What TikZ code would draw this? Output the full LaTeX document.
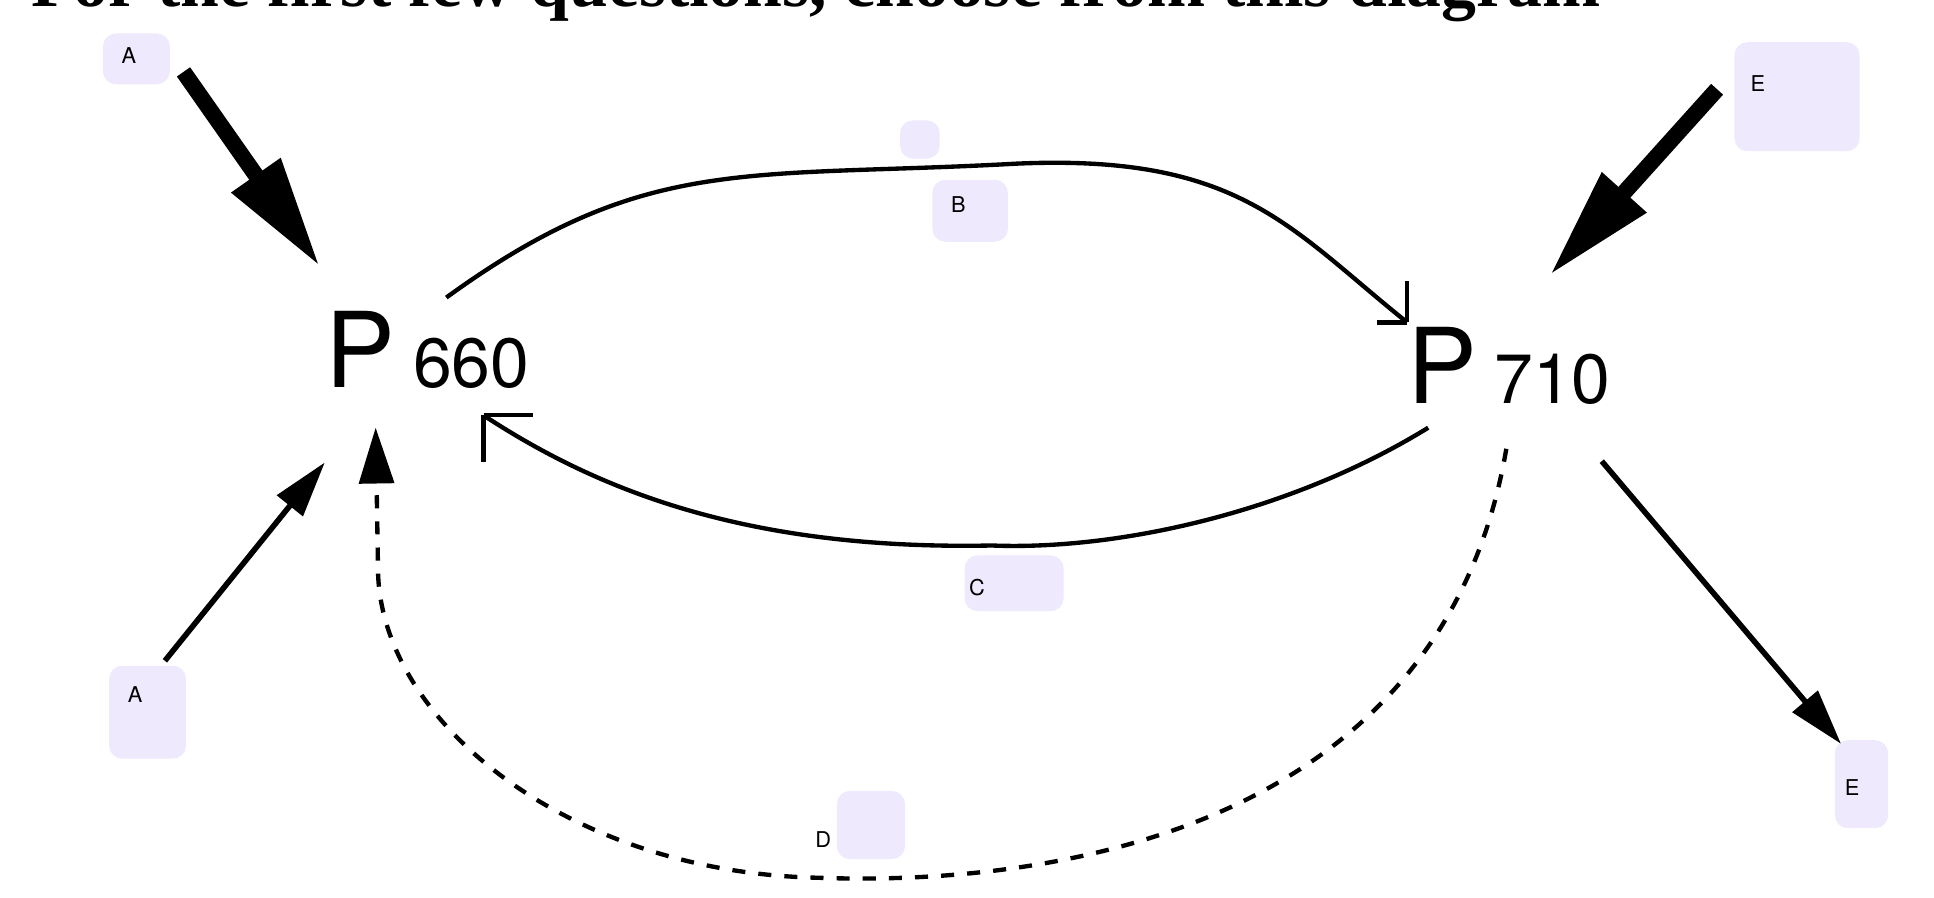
\documentclass[tikz,border=0pt]{standalone}
\usepackage{fontspec}
\setmainfont{TeX Gyre Heros}
\newfontfamily\titlefont{Liberation Serif}
\usetikzlibrary{arrows.meta}
\definecolor{boxfill}{RGB}{238,233,252}

\tikzset{
    tag/.style={fill=boxfill,rounded corners=3pt},
    lbl/.style={font=\fontsize{5}{6}\selectfont,inner sep=0pt},
    heavy/.style={line width=0.13cm,-{Triangle[length=0.9cm,width=0.45cm]}},
    light/.style={line width=0.045cm,-{Triangle[length=0.45cm,width=0.26cm]}},
    swing/.style={line width=0.035cm}
}

\begin{document}
\begin{tikzpicture}
    \useasboundingbox (0,0) rectangle (15.6,7.24);
    % heading, cut by the top edge
    \node[font=\titlefont\fontsize{16}{20}\selectfont\bfseries,anchor=base] (head) at (6.58,7.19) {For the first few questions, choose from this diagram};

    % the two pigments
    \node (p660) at (3.45,4.42) {\fontsize{24}{28}\selectfont P\,\fontsize{16}{20}\selectfont 660};
    \node (p710) at (12.17,4.29) {\fontsize{24}{28}\selectfont P\,\fontsize{16}{20}\selectfont 710};

    % label boxes
    \fill[tag] (0.83,6.97) rectangle (1.37,6.56);
    \node[lbl] (a1) at (1.04,6.79) {A};
    \fill[tag] (7.26,6.27) rectangle (7.58,5.96);
    \fill[tag] (7.52,5.79) rectangle (8.13,5.29);
    \node[lbl] (b) at (7.73,5.59) {B};
    \fill[tag] (13.99,6.90) rectangle (15.00,6.02);
    \node[lbl] (e1) at (14.18,6.57) {E};
    \fill[tag] (0.88,1.87) rectangle (1.50,1.12);
    \node[lbl] (a2) at (1.09,1.64) {A};
    \fill[tag] (7.78,2.76) rectangle (8.58,2.31);
    \node[lbl] (c) at (7.88,2.50) {C};
    \fill[tag] (6.75,0.86) rectangle (7.30,0.31);
    \node[lbl] (d) at (6.64,0.47) {D};
    \fill[tag] (14.80,1.27) rectangle (15.23,0.56);
    \node[lbl] (e2) at (14.94,0.89) {E};

    % free ends
    \coordinate (a1s) at (1.48,6.66);
    \coordinate (a1e) at (2.58,5.09);
    \coordinate (e1s) at (13.85,6.52);
    \coordinate (e1e) at (12.50,5.02);
    \coordinate (a2s) at (1.33,1.91);
    \coordinate (a2e) at (2.62,3.51);
    \coordinate (e2s) at (12.92,3.52);
    \coordinate (e2e) at (14.85,1.24);
    \coordinate (bend) at (11.35,4.64);
    \coordinate (cend) at (3.90,3.89);

    \draw[heavy] (a1s) -- (a1e);
    \draw[heavy] (e1s) -- (e1e);
    \draw[light] (a2s) -- (a2e);
    \draw[light] (e2s) -- (e2e);

    % transfers between the pigments
    \draw[swing] (3.60,4.84) .. controls (5.2,6.0) and (6.0,5.8) .. (8.2,5.92)
        .. controls (10.0,6.0) and (10.4,5.4) .. (bend);
    \draw[swing] (bend) -- ++(0,0.33) (bend) -- ++(-0.24,0);
    \draw[swing] (11.52,3.79) .. controls (10.4,3.1) and (9.0,2.8) .. (8.0,2.84)
        .. controls (6.0,2.8) and (4.8,3.3) .. (cend);
    \draw[swing] (cend) -- ++(0.40,0) (cend) -- ++(0,-0.38);
    \draw[dashed,line width=0.035cm,-{Triangle[length=0.45cm,width=0.28cm]}]
        (12.15,3.62) .. controls (11.6,0.4) and (8.2,0.1) .. (6.6,0.16)
        .. controls (4.6,0.2) and (3.1,1.4) .. (3.05,2.6) -- (3.03,3.79);
\end{tikzpicture}
\end{document}
